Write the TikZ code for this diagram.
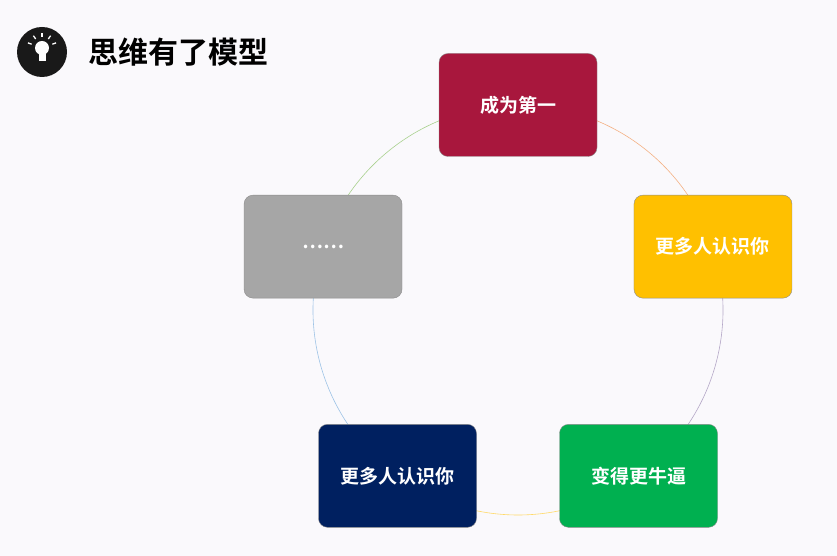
\documentclass[tikz,border=0pt]{standalone}
\usepackage{fontspec}
\newfontfamily\cjk{Noto Sans CJK SC}[BoldFont={* Bold}]
\begin{document}
\begin{tikzpicture}[x=1pt,y=1pt,
  box/.style={rounded corners=9pt,minimum width=158pt,minimum height=103pt,draw=black!45,line width=0.4pt,text=white,font=\cjk\bfseries\fontsize{19}{21}\selectfont},
  ring/.style={line width=0.6pt}]
\fill[fill={rgb,255:red,250;green,249;blue,252}] (0,0) rectangle (837,556);
\useasboundingbox (0,0) rectangle (837,556);
\def\R{205}
\coordinate (c) at (518,246);
\draw[ring,color={rgb,255:red,244;green,177;blue,131}] ([shift={(90:\R)}]c) arc (90:18:\R);
\draw[ring,color={rgb,255:red,180;green,167;blue,199}] ([shift={(18:\R)}]c) arc (18:-54:\R);
\draw[ring,color={rgb,255:red,255;green,217;blue,102}] ([shift={(-54:\R)}]c) arc (-54:-126:\R);
\draw[ring,color={rgb,255:red,157;green,195;blue,230}] ([shift={(-126:\R)}]c) arc (-126:-198:\R);
\draw[ring,color={rgb,255:red,169;green,209;blue,142}] ([shift={(162:\R)}]c) arc (162:90:\R);
\node[box,fill={rgb,255:red,168;green,23;blue,61}] (a) at ([shift={(90:\R)}]c) {成为第一};
\node[box,fill={rgb,255:red,255;green,192;blue,0}] (b) at ([shift={(18:\R)}]c) {更多人认识你};
\node[box,fill={rgb,255:red,0;green,176;blue,80}] (d) at ([shift={(-54:\R)}]c) {变得更牛逼};
\node[box,fill={rgb,255:red,0;green,32;blue,96}] (e) at ([shift={(-126:\R)}]c) {更多人认识你};
\node[box,fill={rgb,255:red,166;green,166;blue,166}] (f) at ([shift={(162:\R)}]c) {……};
% icon
\node[circle,fill=black!90,minimum size=50pt,inner sep=0] (icon) at (42,504) {};
\fill[white] (42,508) circle (7);
\fill[white] (38.5,502) rectangle (45.5,495);
\foreach \a in {20,55,90,125,160} \draw[white,line width=1.3pt] ([shift={(\a:11)}]42,508) -- ([shift={(\a:15)}]42,508);
\node[anchor=west,font=\cjk\bfseries\fontsize{30}{34}\selectfont,inner sep=0] (t) at (88,504) {思维有了模型};
\end{tikzpicture}
\end{document}
